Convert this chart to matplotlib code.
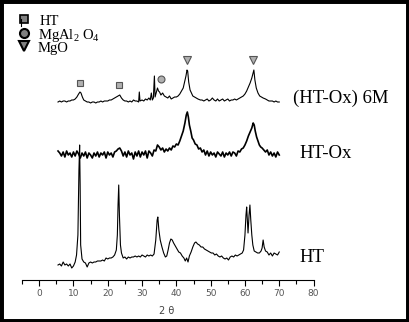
import numpy as np
import matplotlib
matplotlib.use("Agg")
import matplotlib.pyplot as plt
from matplotlib.patches import Rectangle

plt.rcParams['mathtext.fontset'] = 'custom'
plt.rcParams['mathtext.rm'] = 'Liberation Serif'
plt.rcParams['mathtext.it'] = 'Liberation Serif:italic'

# --- data (2 theta, intensity a.u. above each pattern's baseline) ---
ht_tt = [5.5, 6, 6.5, 7, 7.5, 8, 8.5, 9, 9.5, 10, 10.5, 10.9, 11.3, 11.6, 11.8, 11.95, 12.1, 12.5,
         13, 13.5, 14, 14.5, 15, 15.5, 16, 16.5, 17, 17.5, 18, 18.5, 19, 19.5, 20, 20.5, 21, 21.5,
         22, 22.5, 22.8, 23.0, 23.2, 23.4, 23.7, 24, 24.5, 25, 25.5, 26, 26.5, 27, 27.5, 28, 28.5,
         29, 29.5, 30, 30.5, 31, 31.5, 32, 32.5, 33, 33.5, 34, 34.4, 34.6, 34.9, 35.3, 35.8, 36.3,
         36.8, 37.2, 37.6, 38, 38.4, 38.8, 39.2, 39.7, 40.2, 40.7, 41.2, 41.7, 42.2, 42.6, 43, 43.4,
         43.8, 44.3, 44.8, 45.3, 45.7, 46.2, 46.7, 47.2, 47.7, 48.2, 48.7, 49.2, 49.7, 50.2, 50.7,
         51.2, 51.7, 52.2, 52.7, 53.2, 53.7, 54.2, 54.7, 55.2, 55.7, 56.2, 56.7, 57.2, 57.7, 58.2,
         58.7, 59.2, 59.6, 60.0, 60.3, 60.5, 60.7, 60.9, 61.2, 61.45, 61.7, 62.0, 62.3, 62.7, 63.2,
         63.7, 64.2, 64.7, 65.0, 65.3, 65.6, 66.0, 66.5, 67, 67.5, 68, 68.5, 69, 69.5, 70]
ht_int = [0, 1, -1, 3, 0, 1, -1, 1, -3, -1, 3, 10, 30, 95, 120, 80, 20, 6,
          3, 2, -2, 2, 3, 2, 3, 3, 4, 4, 4, 5, 4, 7, 6, 7, 7, 8,
          10, 15, 30, 60, 80, 50, 20, 12, 7, 8, 6, 8, 7, 8, 8, 9, 8,
          9, 8, 10, 9, 8, 10, 9, 10, 9, 11, 25, 45, 48, 35, 25, 18, 12,
          8, 9, 15, 22, 26, 25, 22, 19, 16, 13, 12, 9, 7, 4, 7, 3,
          9, 13, 18, 22, 23, 21, 20, 18, 18, 16, 15, 14, 13, 12, 12,
          10, 11, 9, 8, 9, 7, 6, 7, 5, 8, 9, 8, 10, 9, 10,
          11, 12, 15, 30, 50, 58, 45, 32, 50, 60, 45, 30, 20, 14, 13,
          12, 12, 14, 17, 25, 18, 14, 13, 10, 12, 9, 12, 11, 10, 13]

ox_tt = [5.5, 6, 6.5, 7, 7.5, 8, 8.5, 9, 9.5, 10, 10.5, 11, 11.5, 12, 12.5, 13, 13.5, 14, 14.5,
         15, 15.5, 16, 16.5, 17, 17.5, 18, 18.5, 19, 19.5, 20, 20.5, 21, 21.5, 22, 22.5, 23, 23.5,
         24, 24.5, 25, 25.5, 26, 26.5, 27, 27.5, 28, 28.5, 29, 29.5, 30, 30.5, 31, 31.5, 32, 32.5,
         33, 33.5, 34, 34.5, 35, 35.5, 36, 36.5, 37, 37.5, 38, 38.5, 39, 39.5, 40, 40.5, 41, 41.5,
         42, 42.5, 42.9, 43.2, 43.5, 43.8, 44.2, 44.6, 45, 45.5, 46, 46.5, 47, 47.5, 48, 48.5, 49,
         49.5, 50, 50.5, 51, 51.5, 52, 52.5, 53, 53.5, 54, 54.5, 55, 55.5, 56, 56.5, 57, 57.5, 58,
         58.5, 59, 59.5, 60, 60.5, 61, 61.5, 62, 62.4, 62.7, 63, 63.4, 63.8, 64.2, 64.6, 65, 65.5,
         66, 66.5, 67, 67.5, 68, 68.5, 69, 69.5, 70]
ox_int = [2, 0, -3, 1, -4, 2, -2, 0, -4, 1, -3, 2, -1, -5, 0, -3, 1, -5, 0,
          -2, -5, 0, -3, 1, -4, 0, -2, 1, -5, 1, -2, 0, -4, 1, 2, 4, 5,
          2, -3, 1, -4, 2, -2, 0, -6, 1, -3, 2, -4, 1, -2, 2, -5, 2, 0,
          -3, 3, 2, 8, 6, 3, 5, 1, 4, 2, 5, 3, 7, 6, 9, 8, 12, 17,
          22, 30, 38, 41, 36, 28, 22, 15, 13, 9, 8, 4, 5, 1, 3, -2, 2,
          -3, 1, -2, 0, -4, 1, -1, -3, 1, -4, 0, -2, 1, -3, 1, 0, -3, 2,
          1, 4, 5, 8, 12, 17, 21, 25, 30, 28, 22, 16, 12, 8, 6, 5, 3,
          1, 3, -2, 1, -3, 0, -4, 1, -2]

m6_tt = [5.5, 6, 6.5, 7, 7.5, 8, 8.5, 9, 9.5, 10, 10.5, 11, 11.5, 11.9, 12.2, 12.6, 13, 13.5, 14,
         14.5, 15, 15.5, 16, 16.5, 17, 17.5, 18, 18.5, 19, 19.5, 20, 20.5, 21, 21.5, 22, 22.5, 23,
         23.5, 24, 24.5, 25, 25.5, 26, 26.5, 27, 27.5, 28, 28.5, 29, 29.2, 29.4, 30, 30.5, 31, 31.5,
         32, 32.4, 32.7, 33, 33.3, 33.6, 33.8, 34.2, 34.5, 34.8, 35.1, 35.5, 36, 36.5, 37, 37.5, 38,
         38.5, 39, 39.5, 40, 40.5, 41, 41.5, 42, 42.4, 42.8, 43.1, 43.3, 43.6, 44, 44.4, 44.8, 45.3,
         45.8, 46.3, 47, 47.5, 48, 48.5, 49, 49.5, 50, 50.5, 51, 51.5, 52, 52.5, 53, 53.5, 54, 54.5,
         55, 55.5, 56, 56.5, 57, 57.5, 58, 58.5, 59, 59.5, 60, 60.5, 61, 61.5, 62, 62.3, 62.6, 62.9,
         63.3, 63.8, 64.3, 64.8, 65.3, 66, 66.5, 67, 67.5, 68, 68.5, 69, 69.5, 70]
m6_int = [0, 1, 0, 1, 1, 0, 1, 1, 2, 2, 3, 5, 8, 10, 9, 5, 2, 1, 0,
          0, -1, 0, 0, -1, 0, 0, 1, 0, 1, 1, 1, 2, 2, 3, 4, 5, 6,
          7, 4, 2, 1, 1, 0, 1, 0, 2, 1, 1, 0, 10, 1, 2, 1, 3, 2,
          4, 2, 9, 2, 4, 26, 5, 10, 14, 11, 10, 7, 9, 6, 5, 4, 6,
          3, 4, 5, 5, 6, 8, 11, 14, 20, 26, 32, 31, 20, 12, 9, 6, 5,
          4, 3, 2, 2, 1, 2, 3, 1, 2, 4, 2, 1, 3, 1, 2, 3, 1, 2,
          3, 1, 2, 2, 3, 2, 3, 4, 5, 6, 8, 11, 15, 19, 24, 28, 32, 22,
          14, 9, 6, 5, 4, 3, 2, 1, 1, 1, 0, 1, 0, 0]

names = ["HT", "HT-Ox", "(HT-Ox) 6M"]
offsets = [15, 127, 178]

# phase markers on the (HT-Ox) 6M pattern
ht_marks = [11.9, 23.4]
spinel_marks = [35.6]
mgo_marks = [43.1, 62.3]
mark_height = [197, 195, 201, 220, 220]

legend_labels = ["HT", "MgAl$_2$ O$_4$", "MgO"]

fig = plt.figure(figsize=(4.09, 3.22), dpi=100)
ax = fig.add_axes([22 / 409, 42 / 322, 377.3 / 409, 270 / 322])

series = [(ht_tt, ht_int), (ox_tt, ox_int), (m6_tt, m6_int)]
widths = [0.8, 1.2, 0.8]
for (tt, inten), off, lw in zip(series, offsets, widths):
    ax.plot(tt, np.array(inten) + off, color='black', lw=lw)

ax.plot(ht_marks, mark_height[:2], 's', ms=5, mfc='#b0b0b0', mec='#555555', mew=0.8)
ax.plot(spinel_marks, mark_height[2:3], 'o', ms=5, mfc='#b0b0b0', mec='#555555', mew=0.8)
ax.plot(mgo_marks, mark_height[3:], 'v', ms=5.5, mfc='#b0b0b0', mec='#555555', mew=0.8)

lab_x = [75.8, 75.8, 74.0]
lab_y = [18, 122, 177]
for n, x, y in zip(names, lab_x, lab_y):
    ax.text(x, y, n, fontsize=13.5, family='Liberation Serif', va='baseline', ha='left')

ax.set_xlim(-5, 105)
ax.set_ylim(0, 270)
for s in ['top', 'right', 'left']:
    ax.spines[s].set_visible(False)
ax.spines['bottom'].set_bounds(-5, 80)
ax.spines['bottom'].set_linewidth(0.8)
ax.set_yticks([])
ax.set_xticks([0, 10, 20, 30, 40, 50, 60, 70, 80])
ax.set_xticks([-5, 5, 15, 25, 35, 45, 55, 65, 75], minor=True)
ax.tick_params(axis='x', which='major', length=4, width=0.8, labelsize=6.5,
               labelcolor='#555555', pad=2.5)
ax.tick_params(axis='x', which='minor', length=3, width=0.8)
ax.text(37.3, -31, "2 \u03b8", fontsize=7, color='#444444', ha='center', va='center')

# legend in the upper left, drawn in pixel coordinates
ax_leg = fig.add_axes([0, 0, 1, 1], facecolor='none')
ax_leg.set_xlim(0, 409)
ax_leg.set_ylim(322, 0)
ax_leg.axis('off')
ax_leg.plot([24], [19], 's', ms=6, mfc='#808080', mec='black', mew=1.2)
ax_leg.plot([20.5, 20.5], [19, 26], color='black', lw=0.8)
ax_leg.plot([24], [33], 'o', ms=6.5, mfc='#808080', mec='black', mew=1.5)
ax_leg.plot([24], [46], 'v', ms=7, mfc='#808080', mec='black', mew=1.5)
leg_y = [25, 38.5, 52]
leg_x = [40, 38, 38]
for t, x, y in zip(legend_labels, leg_x, leg_y):
    ax_leg.text(x, y, t, fontsize=10.5, family='Liberation Serif', va='baseline')

# thick frame round the figure
fig.patches.append(Rectangle((0, 0), 1, 1, transform=fig.transFigure, fill=False,
                             lw=5, edgecolor='black'))

fig.savefig("out.png", dpi=100)
